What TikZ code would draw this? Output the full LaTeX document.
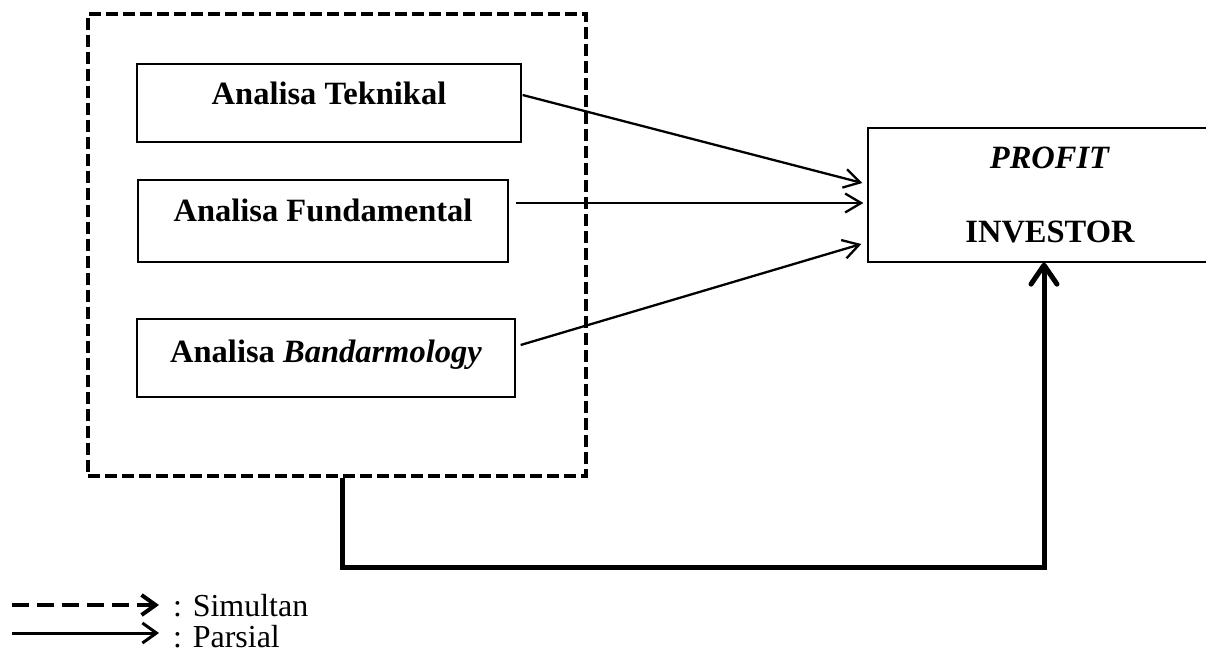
\documentclass[tikz,border=0pt]{standalone}
\usepackage{fontspec}
\setmainfont{Liberation Serif}
\usetikzlibrary{arrows.meta}
\begin{document}
\begin{tikzpicture}[x=1pt,y=-1pt,
  mainfont/.style={font=\fontsize{32}{36}\selectfont},
  abox/.style={draw, line width=1.3pt, inner sep=0pt, text height=22pt,
    font=\bfseries\fontsize{32.5}{36}\selectfont},
  partial/.style={line width=2.3pt, -{Straight Barb[length=16pt,width=19pt]}},
  thickarrow/.style={line width=5pt, -{Straight Barb[length=19pt,width=26pt,round]}},
  group/.style={draw, line width=3.5pt, dash pattern=on 12pt off 5pt, inner sep=0pt}]
\useasboundingbox (0,0) rectangle (1206,652);
\clip (0,0) rectangle (1206,652);

% dashed group
\node[group, minimum width=498pt, minimum height=462pt] (grp) at (337,245) {};

% boxes
\node[abox, minimum width=384pt, minimum height=78pt, text depth=18pt] (tek) at (329,103) {Analisa Teknikal};
\node[abox, minimum width=370pt, minimum height=82pt, text depth=20pt] (fund) at (323,221) {Analisa Fundamental};
\node[abox, minimum width=378pt, minimum height=78pt, text depth=14pt] (band) at (326,358) {Analisa \textit{Bandarmology}};

\node[draw, line width=1.3pt, minimum width=364pt, minimum height=134pt, align=center, inner sep=0pt,
  font=\bfseries\fontsize{32.5}{74}\selectfont] (profit) at (1050,195) {\textit{PROFIT}\\INVESTOR};

% partial arrows
\draw[partial] ([xshift=1pt,yshift=8pt]tek.east) -- ([xshift=-5pt,yshift=12pt]profit.west);
\draw[partial] ([xshift=7pt,yshift=18pt]fund.east) -- ([xshift=-4pt,yshift=-8pt]profit.west);
\draw[partial] ([xshift=5pt,yshift=13pt]band.east) -- ([xshift=-6pt,yshift=-49pt]profit.west);

% simultaneous arrow
\coordinate (c) at (1044,567);
\draw[thickarrow] ([xshift=5pt]grp.south) |- (c) -- (profit.south -| c);

% legend
\coordinate (s1) at (12,605);
\coordinate (s2) at (159,605);
\coordinate (p1) at (12,633);
\coordinate (p2) at (159,633);
\draw[line width=4pt, dash pattern=on 17pt off 8pt, -{Straight Barb[length=14pt,width=20pt]}] (s1) -- (s2);
\draw[line width=3pt, -{Straight Barb[length=14pt,width=20pt]}] (p1) -- (p2);
\node[mainfont, anchor=base west, inner sep=0pt] (sim) at (173,616) {: Simultan};
\node[mainfont, anchor=base west, inner sep=0pt] (par) at (173,647) {: Parsial};
\end{tikzpicture}
\end{document}
